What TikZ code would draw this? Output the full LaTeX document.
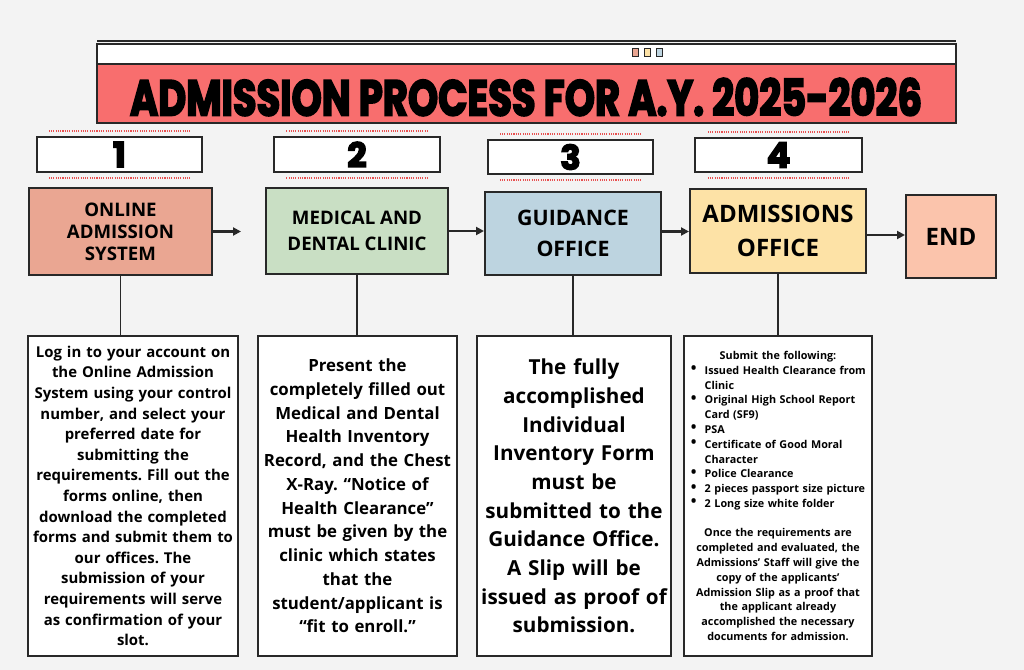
\documentclass[tikz,border=0pt]{standalone}
\usepackage{fontspec}
\setmainfont{Open Sans}
\newfontfamily\titlefont[FakeBold=4]{Poppins}
\usepackage{enumitem}
\usetikzlibrary{arrows.meta}
\frenchspacing
\definecolor{bg}{RGB}{243,243,243}
\definecolor{edge}{RGB}{40,40,40}
\definecolor{titlered}{RGB}{248,110,110}
\definecolor{cone}{RGB}{234,166,146}
\definecolor{ctwo}{RGB}{201,223,196}
\definecolor{cthree}{RGB}{189,212,224}
\definecolor{cfour}{RGB}{253,226,166}
\definecolor{cend}{RGB}{251,196,172}
\definecolor{dotred}{RGB}{232,80,80}
\tikzset{
  stepbox/.style={draw=edge, line width=1.5pt, align=center, font=\bfseries, inner sep=2pt},
  numbox/.style={draw=edge, line width=1.2pt, fill=white, inner sep=0pt},
  descbox/.style={draw=edge, line width=1.5pt, fill=white, align=center, font=\bfseries, inner sep=0pt},
  flow/.style={line width=1.6pt, edge, -{Triangle[length=6pt,width=6pt]}},
  link/.style={line width=1.2pt, edge},
  dotline/.style={dotred, line width=1.9pt, dash pattern=on 0.8pt off 0.9pt}
}
\newcommand{\numtxt}[1]{\resizebox{!}{19pt}{\titlefont\bfseries #1}}
\newcommand{\bigbullet}{\raisebox{0.1ex}{\scalebox{1.4}{\textbullet}}}
\begin{document}
\begin{tikzpicture}[x=0.75pt,y=-0.75pt]
\useasboundingbox (0,0) rectangle (1024,670);
\fill[bg] (0,0) rectangle (1024,670);
% title bar
\draw[edge, line width=1pt] (97,41) -- (956,41);
\draw[edge, line width=1.2pt, fill=white] (97,44) rectangle (956,64);
\draw[edge, line width=1.2pt, fill=titlered] (97,64) rectangle (956,123);
\draw[edge, line width=0.6pt, fill=cone] (632,48) rectangle (638,56);
\draw[edge, line width=0.6pt, fill=cfour] (644,48) rectangle (650,56);
\draw[edge, line width=0.6pt, fill=cthree] (656,48) rectangle (662,56);
\node[inner sep=0pt] (title) at (526,97) {\resizebox{594pt}{28pt}{\titlefont\bfseries ADMISSION PROCESS FOR A.Y. 2025-2026}};
% number boxes
\node[numbox, minimum width=123.75pt, minimum height=26.25pt] (n1) at (119.5,154.5) {\numtxt{1}};
\node[numbox, minimum width=124.5pt, minimum height=26.25pt] (n2) at (357,154.5) {\numtxt{2}};
\node[numbox, minimum width=123.75pt, minimum height=25.5pt] (n3) at (570.5,157) {\numtxt{3}};
\node[numbox, minimum width=125.25pt, minimum height=25.5pt] (n4) at (778.5,155) {\numtxt{4}};
\foreach \n in {n1,n2,n3,n4}{
  \draw[dotline] ([xshift=-53pt,yshift=4pt]\n.north) -- ([xshift=53pt,yshift=4pt]\n.north);
  \draw[dotline] ([xshift=-53pt,yshift=-4pt]\n.south) -- ([xshift=53pt,yshift=-4pt]\n.south);
}
% step boxes
\node[stepbox, fill=cone, minimum width=137.25pt, minimum height=65.25pt, font=\bfseries\fontsize{14pt}{16.5pt}\selectfont] (b1) at (120.5,231.5) {ONLINE\\ADMISSION\\SYSTEM};
\node[stepbox, fill=ctwo, minimum width=136.5pt, minimum height=64.5pt, font=\bfseries\fontsize{14pt}{19pt}\selectfont] (b2) at (357,231) {MEDICAL AND\\DENTAL CLINIC};
\node[stepbox, fill=cthree, minimum width=132pt, minimum height=62.25pt, font=\bfseries\fontsize{16pt}{23pt}\selectfont] (b3) at (573,233.5) {GUIDANCE\\OFFICE};
\node[stepbox, fill=cfour, minimum width=132pt, minimum height=63pt, font=\bfseries\fontsize{18pt}{25pt}\selectfont] (b4) at (778,231) {ADMISSIONS\\OFFICE};
\node[stepbox, fill=cend, minimum width=67.5pt, minimum height=62.25pt, font=\bfseries\fontsize{18pt}{22pt}\selectfont] (b5) at (951,236.5) {END};
\draw[flow] (b1.east) -- ++(21pt,0) coordinate (a1);
\draw[flow] (b2.east) -- (b3.west |- b2.east) ;
\draw[flow] ([yshift=1.5pt]b3.east) -- ([yshift=1.5pt]b3.east -| b4.west);
\draw[flow] ([yshift=-3pt]b4.east) -- ([yshift=-3pt]b4.east -| b5.west);
% descriptions
\node[descbox, minimum width=157.5pt, minimum height=240pt, text width=156pt, font=\bfseries\fontsize{11.2pt}{15.45pt}\selectfont] (d1) at (133,496) {Log in to your account on\\the Online Admission\\System using your control\\number, and select your\\preferred date for\\submitting the\\requirements. Fill out the\\forms online, then\\download the completed\\forms and submit them to\\our offices. The\\submission of your\\requirements will serve\\as confirmation of your\\slot.};
\node[descbox, minimum width=149.25pt, minimum height=240pt, text width=148pt, font=\bfseries\fontsize{12.6pt}{17.8pt}\selectfont] (d2) at (357.5,496) {Present the\\completely filled out\\Medical and Dental\\Health Inventory\\Record, and the Chest\\X-Ray. “Notice of\\Health Clearance”\\must be given by the\\clinic which states\\that the\\student/applicant is\\“fit to enroll.”};
\node[descbox, minimum width=145.5pt, minimum height=240pt, text width=144pt, font=\bfseries\fontsize{15.5pt}{21.5pt}\selectfont] (d3) at (574,496) {The fully\\accomplished\\Individual\\Inventory Form\\must be\\submitted to the\\Guidance Office.\\A Slip will be\\issued as proof of\\submission.};
\node[descbox, minimum width=141pt, minimum height=240pt, text width=140pt, font=\bfseries\fontsize{8.1pt}{11.1pt}\selectfont] (d4) at (778,496) {Submit the following:\\[-1pt]
\raggedright
\begin{itemize}[label=\bigbullet, leftmargin=15pt, labelsep=6pt, itemsep=0pt, topsep=0pt, parsep=0pt, partopsep=0pt]
\item \mbox{Issued Health Clearance from}\\Clinic
\item \mbox{Original High School Report}\\Card (SF9)
\item PSA
\item \mbox{Certificate of Good Moral}\\Character
\item Police Clearance
\item \mbox{2 pieces passport size picture}
\item \mbox{2 Long size white folder}
\end{itemize}
\vspace{11pt}
\centering Once the requirements are\\completed and evaluated, the\\Admissions' Staff will give the\\copy of the applicants'\\Admission Slip as a proof that\\the applicant already\\accomplished the necessary\\documents for admission.\par\vspace{9pt}};
\draw[link] (b1.south) -- (b1.south |- d1.north);
\draw[link] (b2.south) -- (b2.south |- d2.north);
\draw[link] (b3.south) -- (b3.south |- d3.north);
\draw[link] (b4.south) -- (b4.south |- d4.north);
\end{tikzpicture}
\end{document}
